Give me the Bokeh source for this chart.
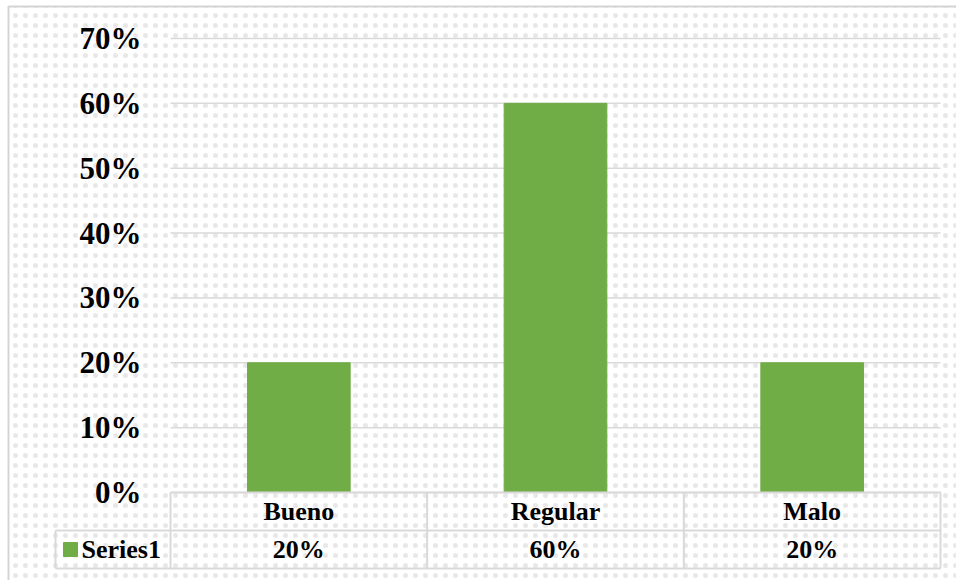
from bokeh.plotting import figure
from bokeh.models import Range1d
from bokeh.core.properties import value
from bokeh.embed import file_html
from bokeh.resources import INLINE

# ---- data ----
categories = ["Bueno", "Regular", "Malo"]
values = [0.20, 0.60, 0.20]
value_labels = ["20%", "60%", "20%"]
y_ticks = [0.0, 0.1, 0.2, 0.3, 0.4, 0.5, 0.6, 0.7]
y_tick_labels = ["0%", "10%", "20%", "30%", "40%", "50%", "60%", "70%"]
series_name = "Series1"

# ---- layout (pixel geometry of the plot area) ----
W, H = 956, 580
PLOT_L, PLOT_R = 170, 940
ZERO_Y, TOP_Y = 492, 38
CAT_PX = (PLOT_R - PLOT_L) / len(categories)
VAL_PX = (ZERO_Y - TOP_Y) / max(y_ticks)


def dx(px):
    return (px - PLOT_L) / CAT_PX


def dy(py):
    return (ZERO_Y - py) / VAL_PX


FONT = value("Liberation Serif")
GREEN = "#70AD47"
GRID = "#d9d9d9"

p = figure(width=W, height=H, output_backend="svg", toolbar_location=None,
           x_range=Range1d(dx(0), dx(W)), y_range=Range1d(dy(H), dy(0)),
           x_axis_type=None, y_axis_type=None, min_border=0,
           outline_line_color=None, background_fill_color="white",
           border_fill_color="white")
p.xgrid.visible = False
p.ygrid.visible = False

# dotted background inside chart border
p.quad(left=dx(8), right=dx(W + 20), top=dy(6), bottom=dy(H + 20),
       fill_color="white", line_color="#d4d4d4", line_width=2,
       hatch_pattern="dot", hatch_color="#e8e8e8", hatch_scale=10, hatch_weight=1)

n = len(categories)
xs = [i + 0.5 for i in range(n)]

# gridlines
p.segment(x0=[0] * len(y_ticks), x1=[n] * len(y_ticks), y0=y_ticks, y1=y_ticks,
          line_color=GRID, line_width=1.5)

# y tick labels
p.text(x=[dx(141)] * len(y_ticks), y=y_ticks, text=y_tick_labels,
       text_font=FONT, text_font_style="bold", text_font_size="31px",
       text_align="right", text_baseline="middle", text_color="black")

# bars
p.vbar(x=xs, top=values, bottom=0, width=0.4, fill_color=GREEN, line_color=GREEN)

# data table
row = (530 - ZERO_Y) / VAL_PX
r1_top, r1_bot, r2_bot = 0, -row, -2 * row
p.segment(x0=[0, dx(55), dx(55)], x1=[n, n, n], y0=[r1_top, r1_bot, r2_bot],
          y1=[r1_top, r1_bot, r2_bot], line_color=GRID, line_width=2)
vx = list(range(n + 1))
p.segment(x0=vx, x1=vx, y0=[r1_top] * len(vx), y1=[r2_bot] * len(vx),
          line_color=GRID, line_width=2)
p.segment(x0=[dx(55)], x1=[dx(55)], y0=[r1_bot], y1=[r2_bot],
          line_color=GRID, line_width=2)

p.text(x=xs, y=[-row / 2] * n, text=categories, text_font=FONT,
       text_font_style="bold", text_font_size="26px", text_align="center",
       text_baseline="middle", text_color="black")
p.text(x=xs, y=[-1.5 * row] * n, text=value_labels, text_font=FONT,
       text_font_style="bold", text_font_size="26px", text_align="center",
       text_baseline="middle", text_color="black")

p.scatter(x=[dx(70)], y=[-1.5 * row], marker="square", size=14,
          fill_color=GREEN, line_color=GREEN)
p.text(x=[dx(81)], y=[-1.5 * row], text=[series_name], text_font=FONT,
       text_font_style="bold", text_font_size="26px", text_align="left",
       text_baseline="middle", text_color="black")

open("out.html", "w").write(file_html(p, INLINE))
